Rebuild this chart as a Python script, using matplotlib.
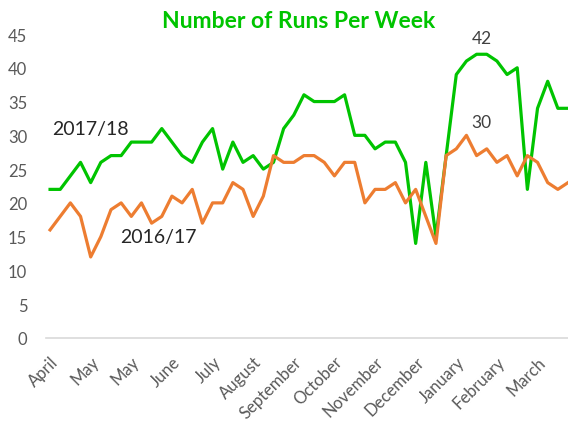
import numpy as np
import matplotlib
matplotlib.use('Agg')
from matplotlib import pyplot

# weekly run counts
runs_2017 = [22, 22, 24, 26, 23, 26, 27, 27, 29, 29, 29, 31,
             29, 27, 26, 29, 31, 25, 29, 26, 27, 25, 26, 31, 33,
             36, 35, 35, 35, 36, 30, 30, 28, 29, 29, 26,
             14, 26, 15, 27, 39, 41, 42, 42, 41, 39, 40, 22, 34, 38, 34, 34]
runs_2016 = [16, 18, 20, 18, 12, 15, 19, 20, 18, 20, 17, 18,
             21, 20, 22, 17, 20, 20, 23, 22, 18, 21, 27, 26, 26,
             27, 27, 26, 24, 26, 26, 20, 22, 22, 23, 20, 22, 18, 14,
             27, 28, 30, 27, 28, 26, 27, 24, 27, 26, 23, 22, 23]
month_labels = ['April', 'May', 'May', 'June', 'July', 'August', 'September',
                'October', 'November', 'December', 'January', 'February', 'March']
label_step = 4

pyplot.rcParams['font.family'] = ['Lato', 'DejaVu Sans']

GREEN = '#00C400'
ORANGE = '#ED7D31'
GREY = '#595959'

fig = pyplot.figure(figsize=(5.68, 4.27), dpi=100)
ax = fig.add_axes([46 / 568, 1 - 339 / 427, 1 - 46 / 568, (339 - 35) / 427])

weeks = np.arange(len(runs_2017))
ax.plot(weeks, runs_2017, color=GREEN, lw=2.3, solid_joinstyle='round', clip_on=False)
ax.plot(weeks, runs_2016, color=ORANGE, lw=2.3, solid_joinstyle='round', clip_on=False)

ax.set_xlim(-0.4, len(weeks) - 1)
ax.set_ylim(0, 45)
ax.set_yticks(range(0, 46, 5))
ax.set_xticks(weeks[::label_step])
ax.set_xticklabels(month_labels, rotation=45, ha='right', va='top',
                   rotation_mode='anchor')

ax.tick_params(axis='y', length=0, pad=13.5, labelsize=12, labelcolor=GREY)
ax.tick_params(axis='x', length=0, pad=11, labelsize=12, labelcolor=GREY)

for side in ('top', 'right', 'left'):
    ax.spines[side].set_visible(False)
ax.spines['bottom'].set_color('#D9D9D9')
ax.spines['bottom'].set_linewidth(1.2)

# peak annotations and series labels
peak17 = int(np.argmax(runs_2017))
peak16 = int(np.argmax(runs_2016))
ax.annotate(str(runs_2017[peak17]), (peak17 + 0.5, runs_2017[peak17]),
            xytext=(0, 6), textcoords='offset points', ha='center', va='bottom',
            fontsize=12.5, color='#404040')
ax.annotate(str(runs_2016[peak16]), (peak16 + 1.5, runs_2016[peak16]),
            xytext=(0, 4), textcoords='offset points', ha='center', va='bottom',
            fontsize=12.5, color='#404040')
ax.text(0.2, 31, '2017/18', fontsize=14, color='#262626', va='center')
ax.text(6.9, 15, '2016/17', fontsize=14, color='#262626', va='center')

fig.text(299 / 568, 1 - 21 / 427, 'Number of Runs Per Week', ha='center', va='center',
         fontsize=16.5, fontweight='bold', color=GREEN)

fig.savefig('out.png', dpi=100)
